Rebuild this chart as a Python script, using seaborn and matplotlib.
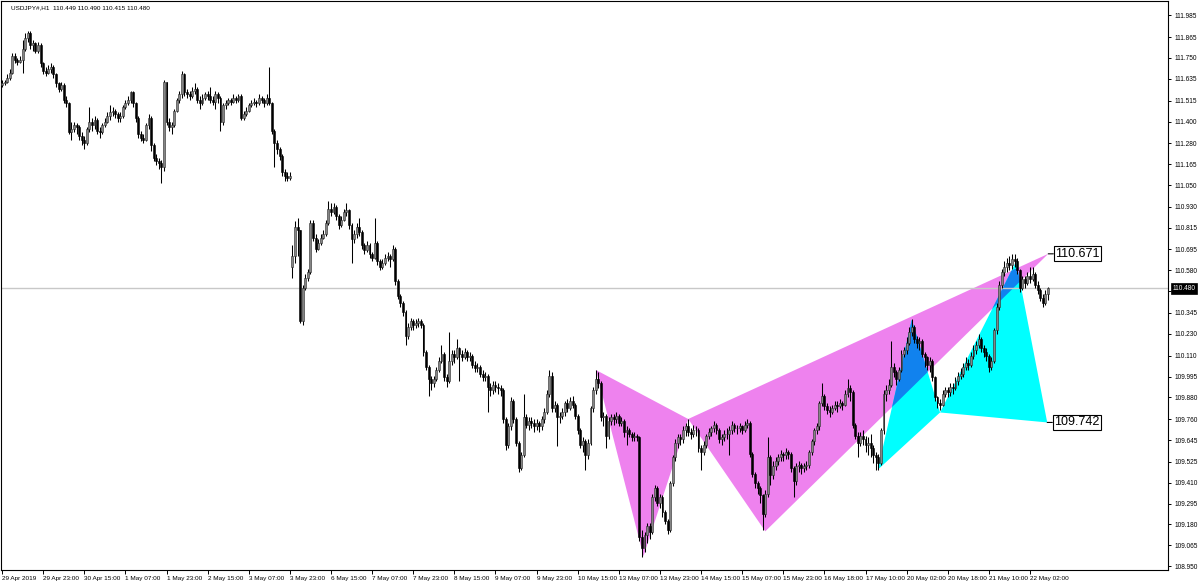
import numpy as np
import matplotlib
matplotlib.use("Agg")
import matplotlib.pyplot as plt
import matplotlib.transforms as mtransforms
from matplotlib.patches import Polygon
import seaborn as sns

sns.set_theme(style="white")
plt.rcParams['font.family'] = ['Liberation Sans', 'DejaVu Sans']

title_text = "USDJPY#,H1  110.449 110.490 110.415 110.480"

x_labels = ["29 Apr 2019", "29 Apr 23:00", "30 Apr 15:00", "1 May 07:00", "1 May 23:00",
            "2 May 15:00", "3 May 07:00", "3 May 23:00", "6 May 15:00", "7 May 07:00",
            "7 May 23:00", "8 May 15:00", "9 May 07:00", "9 May 23:00", "10 May 15:00",
            "13 May 07:00", "13 May 23:00", "14 May 15:00", "15 May 07:00", "15 May 23:00",
            "16 May 18:00", "17 May 10:00", "20 May 02:00", "20 May 18:00", "21 May 10:00",
            "22 May 02:00"]
bars_per_label = 16

y_ticks = [111.985, 111.865, 111.750, 111.635, 111.515, 111.400, 111.280, 111.165, 111.050,
           110.930, 110.815, 110.695, 110.580, 110.465, 110.345, 110.230, 110.110, 109.995,
           109.880, 109.760, 109.645, 109.525, 109.410, 109.295, 109.180, 109.065, 108.950]
hidden_tick = 110.465  # covered by the current-price box in the reference

current_price = 110.480
first_open = 111.60
gap_bar = 113
gap_open = 110.60

# ---- closes / highs / lows (hourly bars) ----
close_1 = [
    111.61, 111.62, 111.64, 111.67, 111.76, 111.74, 111.73, 111.74, 111.80, 111.86,
    111.89, 111.82, 111.83, 111.79, 111.82, 111.72, 111.68, 111.67, 111.69, 111.70,
    111.66, 111.61, 111.58, 111.60, 111.52, 111.50, 111.34, 111.36, 111.38, 111.37,
    111.32, 111.30, 111.28, 111.36, 111.40, 111.38, 111.41, 111.35, 111.34, 111.38,
    111.40, 111.43, 111.45, 111.46, 111.44, 111.42, 111.43, 111.48, 111.50, 111.52,
    111.56, 111.50, 111.42, 111.33, 111.31, 111.30, 111.38, 111.42, 111.27, 111.20,
    111.18, 111.17, 111.15, 111.62, 111.40, 111.37, 111.38, 111.46, 111.52, 111.55,
    111.66, 111.56, 111.55, 111.54, 111.57, 111.58, 111.52, 111.50, 111.53, 111.55,
    111.54, 111.52, 111.51, 111.55, 111.53, 111.40, 111.49, 111.50, 111.52, 111.51,
    111.53, 111.52, 111.54, 111.42, 111.44, 111.46, 111.49, 111.50, 111.51, 111.50,
    111.53, 111.52, 111.50, 111.53, 111.50, 111.35, 111.28, 111.25, 111.21, 111.12,
    111.10, 111.09, 111.10]
high_1 = [
    111.63, 111.63, 111.66, 111.69, 111.78, 111.78, 111.75, 111.76, 111.85, 111.89,
    111.90, 111.90, 111.85, 111.84, 111.84, 111.83, 111.73, 111.70, 111.71, 111.72,
    111.71, 111.67, 111.62, 111.62, 111.61, 111.54, 111.51, 111.40, 111.40, 111.39,
    111.38, 111.34, 111.32, 111.37, 111.48, 111.42, 111.43, 111.42, 111.37, 111.39,
    111.42, 111.45, 111.49, 111.48, 111.47, 111.45, 111.45, 111.49, 111.52, 111.54,
    111.57, 111.57, 111.51, 111.43, 111.35, 111.33, 111.39, 111.44, 111.43, 111.28,
    111.22, 111.20, 111.19, 111.63, 111.62, 111.42, 111.40, 111.47, 111.53, 111.57,
    111.68, 111.67, 111.58, 111.57, 111.59, 111.61, 111.59, 111.54, 111.55, 111.56,
    111.57, 111.59, 111.54, 111.57, 111.56, 111.54, 111.50, 111.52, 111.53, 111.53,
    111.55, 111.54, 111.55, 111.55, 111.46, 111.48, 111.50, 111.52, 111.53, 111.52,
    111.55, 111.54, 111.53, 111.55, 111.70, 111.51, 111.36, 111.30, 111.26, 111.22,
    111.14, 111.12, 111.12]
low_1 = [
    111.59, 111.60, 111.61, 111.63, 111.66, 111.72, 111.71, 111.72, 111.67, 111.79,
    111.84, 111.80, 111.79, 111.78, 111.78, 111.70, 111.66, 111.65, 111.66, 111.67,
    111.64, 111.59, 111.56, 111.57, 111.50, 111.48, 111.33, 111.30, 111.34, 111.33,
    111.30, 111.27, 111.25, 111.27, 111.34, 111.35, 111.36, 111.33, 111.31, 111.33,
    111.37, 111.39, 111.41, 111.43, 111.42, 111.40, 111.40, 111.42, 111.47, 111.49,
    111.50, 111.48, 111.40, 111.31, 111.29, 111.28, 111.29, 111.36, 111.24, 111.18,
    111.16, 111.14, 111.06, 111.13, 111.38, 111.35, 111.33, 111.37, 111.45, 111.50,
    111.53, 111.54, 111.53, 111.52, 111.53, 111.55, 111.50, 111.47, 111.49, 111.52,
    111.52, 111.50, 111.49, 111.47, 111.50, 111.35, 111.38, 111.47, 111.49, 111.49,
    111.50, 111.50, 111.51, 111.41, 111.41, 111.43, 111.45, 111.48, 111.49, 111.48,
    111.49, 111.50, 111.48, 111.49, 111.49, 111.33, 111.15, 111.22, 111.19, 111.10,
    111.07, 111.07, 111.08]

close_2 = [
    110.66, 110.82, 110.80, 110.30, 110.48, 110.54, 110.57, 110.84, 110.76, 110.70,
    110.73, 110.76, 110.78, 110.84, 110.92, 110.90, 110.93, 110.88, 110.83, 110.86,
    110.90, 110.91, 110.83, 110.75, 110.78, 110.82, 110.79, 110.72, 110.69, 110.72,
    110.67, 110.65, 110.73, 110.63, 110.60, 110.62, 110.65, 110.66, 110.64, 110.70,
    110.52, 110.44, 110.40, 110.35, 110.22, 110.27, 110.30, 110.28, 110.29, 110.30,
    110.28, 110.13, 110.05, 109.98, 109.96, 109.98, 110.03, 110.08, 110.12, 109.99,
    109.97, 110.08, 110.12, 110.10, 110.15, 110.12, 110.10, 110.13, 110.10, 110.11,
    110.06, 110.04, 110.05, 110.01, 109.99, 110.00, 109.94, 109.92, 109.95, 109.94,
    109.93, 109.92, 109.76, 109.62, 109.72, 109.86, 109.76, 109.63, 109.49, 109.56,
    109.77, 109.73, 109.75, 109.74, 109.72, 109.74, 109.72, 109.76]
high_2 = [
    110.72, 110.85, 110.87, 110.80, 110.50, 110.56, 110.59, 110.86, 110.86, 110.78,
    110.75, 110.78, 110.80, 110.86, 110.96, 110.95, 110.95, 110.94, 110.89, 110.88,
    110.92, 110.95, 110.92, 110.84, 110.80, 110.84, 110.87, 110.80, 110.73, 110.74,
    110.73, 110.68, 110.87, 110.74, 110.64, 110.64, 110.67, 110.68, 110.67, 110.72,
    110.71, 110.53, 110.45, 110.41, 110.36, 110.29, 110.32, 110.31, 110.31, 110.32,
    110.31, 110.29, 110.14, 110.06, 110.00, 110.00, 110.05, 110.10, 110.17, 110.13,
    110.01, 110.24, 110.14, 110.14, 110.20, 110.16, 110.14, 110.15, 110.14, 110.13,
    110.12, 110.08, 110.07, 110.06, 110.03, 110.02, 110.01, 109.96, 109.97, 109.97,
    109.96, 109.95, 109.93, 109.77, 109.74, 109.88, 109.87, 109.77, 109.64, 109.58,
    109.90, 109.79, 109.77, 109.77, 109.76, 109.76, 109.75, 109.78]
low_2 = [
    110.54, 110.62, 110.66, 110.29, 110.28, 110.47, 110.52, 110.56, 110.74, 110.68,
    110.69, 110.72, 110.75, 110.77, 110.83, 110.88, 110.89, 110.86, 110.81, 110.82,
    110.85, 110.88, 110.81, 110.62, 110.73, 110.76, 110.77, 110.70, 110.67, 110.68,
    110.65, 110.63, 110.64, 110.61, 110.58, 110.59, 110.61, 110.63, 110.60, 110.63,
    110.50, 110.42, 110.38, 110.33, 110.17, 110.20, 110.25, 110.25, 110.26, 110.27,
    110.26, 110.11, 110.03, 109.89, 109.92, 109.94, 109.97, 110.02, 110.07, 109.97,
    109.94, 109.96, 110.06, 110.07, 110.09, 109.97, 110.08, 110.09, 110.08, 110.08,
    110.04, 110.02, 110.02, 109.99, 109.97, 109.97, 109.80, 109.89, 109.90, 109.91,
    109.90, 109.89, 109.74, 109.59, 109.60, 109.70, 109.74, 109.61, 109.47, 109.48,
    109.55, 109.71, 109.70, 109.71, 109.69, 109.70, 109.69, 109.70]

close_3 = [
    109.80, 109.90, 110.00, 109.82, 109.84, 109.77, 109.78, 109.80, 109.85, 109.82,
    109.86, 109.84, 109.78, 109.70, 109.62, 109.64, 109.56, 109.63, 109.82, 109.92,
    109.98, 109.96, 109.77, 109.78, 109.67, 109.75, 109.77, 109.76, 109.78, 109.74,
    109.75, 109.69, 109.70, 109.68, 109.66, 109.67, 109.66, 109.11, 109.05, 109.12,
    109.17, 109.14, 109.33, 109.38, 109.30, 109.33, 109.25, 109.20, 109.15, 109.41,
    109.55, 109.63, 109.66, 109.65, 109.70, 109.72, 109.69, 109.68, 109.70, 109.70,
    109.60, 109.58, 109.62, 109.67, 109.69, 109.71, 109.73, 109.70, 109.65, 109.66,
    109.68, 109.68, 109.70, 109.73, 109.71, 109.71, 109.72, 109.70, 109.73, 109.74,
    109.57, 109.46, 109.41, 109.38, 109.34, 109.24, 109.35, 109.55, 109.45, 109.50,
    109.53, 109.55, 109.57, 109.56, 109.58, 109.57]
high_3 = [
    109.82, 109.92, 110.03, 110.02, 109.86, 109.85, 109.80, 109.82, 109.86, 109.87,
    109.88, 109.89, 109.85, 109.79, 109.71, 109.66, 109.65, 109.65, 109.83, 109.94,
    110.03, 110.02, 109.97, 109.80, 109.79, 109.77, 109.79, 109.79, 109.80, 109.79,
    109.77, 109.76, 109.72, 109.71, 109.69, 109.69, 109.68, 109.67, 109.15, 109.14,
    109.19, 109.19, 109.35, 109.40, 109.39, 109.35, 109.34, 109.26, 109.21, 109.42,
    109.56, 109.65, 109.68, 109.68, 109.72, 109.74, 109.76, 109.71, 109.73, 109.72,
    109.71, 109.62, 109.64, 109.68, 109.71, 109.72, 109.75, 109.74, 109.71, 109.68,
    109.70, 109.71, 109.72, 109.75, 109.74, 109.73, 109.74, 109.73, 109.75, 109.76,
    109.75, 109.58, 109.47, 109.42, 109.39, 109.35, 109.37, 109.66, 109.56, 109.53,
    109.55, 109.57, 109.59, 109.58, 109.60, 109.59]
low_3 = [
    109.74, 109.79, 109.88, 109.80, 109.80, 109.61, 109.74, 109.76, 109.78, 109.80,
    109.81, 109.82, 109.76, 109.68, 109.60, 109.58, 109.48, 109.54, 109.62, 109.80,
    109.90, 109.93, 109.75, 109.72, 109.60, 109.65, 109.73, 109.73, 109.74, 109.72,
    109.72, 109.66, 109.62, 109.66, 109.64, 109.64, 109.64, 109.09, 109.00, 109.03,
    109.08, 109.10, 109.13, 109.31, 109.28, 109.27, 109.22, 109.18, 109.13, 109.14,
    109.39, 109.53, 109.60, 109.62, 109.63, 109.67, 109.67, 109.65, 109.66, 109.67,
    109.58, 109.48, 109.56, 109.60, 109.65, 109.67, 109.69, 109.68, 109.63, 109.62,
    109.64, 109.65, 109.56, 109.68, 109.69, 109.68, 109.69, 109.68, 109.69, 109.71,
    109.55, 109.44, 109.38, 109.35, 109.30, 109.15, 109.22, 109.33, 109.40, 109.43,
    109.48, 109.51, 109.53, 109.53, 109.54, 109.54]

close_4 = [
    109.49, 109.42, 109.50, 109.51, 109.49, 109.50, 109.51, 109.58, 109.64, 109.70,
    109.72, 109.85, 109.89, 109.83, 109.81, 109.80, 109.82, 109.84, 109.83, 109.85,
    109.84, 109.90, 109.93, 109.91, 109.73, 109.67, 109.63, 109.67, 109.65, 109.62,
    109.63, 109.60, 109.56, 109.55, 109.52, 109.70, 109.90, 109.92, 109.95, 110.05,
    110.02, 109.98, 110.03, 110.12, 110.14, 110.18, 110.24, 110.27, 110.20, 110.18,
    110.19, 110.12, 110.10, 110.06, 110.08, 109.99, 109.88, 109.85, 109.84, 109.90,
    109.92, 109.91, 109.94, 109.93, 109.97, 110.00, 110.01, 110.05, 110.07, 110.06,
    110.11, 110.14, 110.17, 110.20, 110.15, 110.13, 110.11, 110.05, 110.08, 110.25,
    110.38, 110.50, 110.57, 110.60, 110.62, 110.61, 110.64, 110.63, 110.58, 110.48,
    110.53, 110.51, 110.55, 110.53, 110.56, 110.50, 110.47, 110.43, 110.40, 110.449,
    110.480]
high_4 = [
    109.58, 109.50, 109.52, 109.53, 109.52, 109.52, 109.53, 109.59, 109.65, 109.71,
    109.74, 109.86, 109.96, 109.90, 109.85, 109.83, 109.84, 109.86, 109.86, 109.87,
    109.86, 109.92, 109.98, 109.95, 109.92, 109.74, 109.69, 109.69, 109.70, 109.67,
    109.66, 109.68, 109.62, 109.58, 109.57, 109.71, 109.92, 109.95, 109.98, 110.19,
    110.07, 110.03, 110.05, 110.14, 110.16, 110.21, 110.27, 110.31, 110.28, 110.22,
    110.21, 110.20, 110.13, 110.11, 110.10, 110.09, 110.00, 109.89, 109.87, 109.92,
    109.94, 109.94, 109.96, 109.96, 109.99, 110.02, 110.04, 110.07, 110.10, 110.09,
    110.13, 110.17, 110.19, 110.23, 110.21, 110.17, 110.15, 110.12, 110.10, 110.26,
    110.40, 110.52, 110.59, 110.63, 110.65, 110.66, 110.67, 110.67, 110.65, 110.59,
    110.55, 110.55, 110.57, 110.60, 110.60, 110.57, 110.52, 110.48, 110.45, 110.47,
    110.490]
low_4 = [
    109.47, 109.33, 109.40, 109.47, 109.46, 109.47, 109.48, 109.49, 109.56, 109.62,
    109.68, 109.70, 109.83, 109.81, 109.79, 109.77, 109.79, 109.81, 109.80, 109.82,
    109.81, 109.83, 109.88, 109.86, 109.71, 109.65, 109.55, 109.61, 109.62, 109.58,
    109.56, 109.55, 109.52, 109.48, 109.48, 109.51, 109.68, 109.86, 109.90, 109.94,
    109.99, 109.95, 109.97, 110.02, 110.10, 110.12, 110.17, 110.22, 110.18, 110.15,
    110.14, 110.10, 110.05, 110.03, 110.02, 109.97, 109.86, 109.82, 109.81, 109.83,
    109.88, 109.88, 109.89, 109.90, 109.92, 109.95, 109.98, 109.99, 110.03, 110.03,
    110.05, 110.09, 110.12, 110.15, 110.13, 110.10, 110.08, 110.02, 110.03, 110.07,
    110.23, 110.36, 110.48, 110.55, 110.57, 110.58, 110.59, 110.60, 110.56, 110.46,
    110.47, 110.48, 110.50, 110.51, 110.52, 110.48, 110.45, 110.41, 110.38, 110.39,
    110.415]

# harmonic pattern points (bar index, price): X, A, B, C, D
pattern_pink_x = [231.1, 249.6, 267.0, 297.0, 407.1]
pattern_pink_y = [110.031, 109.005, 109.761, 109.142, 110.671]
pattern_cyan_x = [340.8, 354.0, 365.0, 394.6, 406.7]
pattern_cyan_y = [109.482, 110.307, 109.797, 110.629, 109.742]

# ---- assemble ----
close = np.array(close_1 + close_2 + close_3 + close_4)
high = np.array(high_1 + high_2 + high_3 + high_4)
low = np.array(low_1 + low_2 + low_3 + low_4)
assert len(close) == len(high) == len(low), (len(close), len(high), len(low))
n = len(close)
openp = np.empty(n)
openp[0] = first_open
openp[1:] = close[:-1]
openp[gap_bar] = gap_open
high = np.maximum(high, np.maximum(openp, close))
low = np.minimum(low, np.minimum(openp, close))
idx = np.arange(n)

# ---- figure ----
fig = plt.figure(figsize=(12, 5.85), dpi=100)
ax = fig.add_axes([1 / 1200, 15 / 585, 1167 / 1200, 569 / 585])
ax.set_facecolor('white')
ax.set_xlim(-0.4, 453.7)
ax.set_ylim(108.929, 112.064)

PINK = '#EE82EE'
CYAN = '#00FFFF'
BLUE = '#1182EE'

def tri(xs, ys, a, b, c):
    return np.column_stack([[xs[a], xs[b], xs[c]], [ys[a], ys[b], ys[c]]])

pink1 = Polygon(tri(pattern_pink_x, pattern_pink_y, 0, 1, 2), closed=True,
                facecolor=PINK, edgecolor='none', zorder=1)
pink2 = Polygon(tri(pattern_pink_x, pattern_pink_y, 2, 3, 4), closed=True,
                facecolor=PINK, edgecolor='none', zorder=1)
cyan1 = Polygon(tri(pattern_cyan_x, pattern_cyan_y, 0, 1, 2), closed=True,
                facecolor=CYAN, edgecolor='none', zorder=1)
cyan2 = Polygon(tri(pattern_cyan_x, pattern_cyan_y, 2, 3, 4), closed=True,
                facecolor=CYAN, edgecolor='none', zorder=1)
for p in (pink1, pink2, cyan1, cyan2):
    ax.add_patch(p)
for k in ((0, 1, 2), (2, 3, 4)):
    ov = Polygon(tri(pattern_cyan_x, pattern_cyan_y, *k), closed=True,
                 facecolor=BLUE, edgecolor='none', zorder=1.1)
    ax.add_patch(ov)
    ov.set_clip_path(pink2)

# current price line
ax.axhline(current_price, color='#c8c8c8', lw=1.0, zorder=1.5)

# candles
bull = close >= openp
body_lo = np.minimum(openp, close)
body_h = np.abs(close - openp)
ax.vlines(idx, low, high, color='black', lw=0.75, zorder=2)
ax.bar(idx[bull], body_h[bull], bottom=body_lo[bull], width=0.74,
       color='#858585', edgecolor='#2a2a2a', linewidth=0.4, zorder=3)
ax.bar(idx[~bull], body_h[~bull], bottom=body_lo[~bull], width=0.74,
       color='black', edgecolor='black', linewidth=0.4, zorder=3)

# pattern price labels
for xs, ys in ((pattern_pink_x, pattern_pink_y), (pattern_cyan_x, pattern_cyan_y)):
    ax.annotate(f"{ys[4]:.3f}", xy=(xs[4], ys[4]), xytext=(7, 0),
                textcoords='offset pixels', ha='left', va='center', fontsize=9,
                color='black', annotation_clip=False, zorder=6,
                bbox=dict(boxstyle='square,pad=0.12', fc='white', ec='black', lw=0.8),
                arrowprops=dict(arrowstyle='-', color='black', lw=0.8,
                                shrinkA=0, shrinkB=0))

# axes / ticks
for s in ax.spines.values():
    s.set_color('black')
    s.set_linewidth(0.8)
ax.set_xticks(idx[::bars_per_label][:len(x_labels)])
ax.set_xticklabels(x_labels, ha='left')
off = mtransforms.ScaledTranslation(2 / 100, 0, fig.dpi_scale_trans)
for lab in ax.get_xticklabels():
    lab.set_transform(lab.get_transform() + off)
ax.tick_params(axis='x', bottom=True, top=False, direction='out', length=3,
               width=0.7, pad=1, labelsize=4.6, colors='black')
ax.set_yticks(y_ticks)
ax.set_yticklabels(["" if v == hidden_tick else f"{v:.3f}" for v in y_ticks])
ax.tick_params(axis='y', right=True, left=False, labelright=True, labelleft=False,
               direction='out', length=2.5, width=0.7, pad=2, labelsize=4.7,
               colors='black')

blend = mtransforms.blended_transform_factory(ax.transAxes, ax.transData)
ax.text(1 + 4.5 / 1167, current_price, f"{current_price:.3f}", transform=blend,
        ha='left', va='center', fontsize=4.7, color='white', clip_on=False, zorder=10,
        bbox=dict(boxstyle='square,pad=0.3', fc='black', ec='black', lw=0.5))

ax.text(0.0085, 0.993, title_text, transform=ax.transAxes, ha='left', va='top',
        fontsize=4.6, color='black', zorder=10)

ax.set_xlabel('')
ax.set_ylabel('')
fig.savefig('out.png', dpi=100, facecolor='white')
